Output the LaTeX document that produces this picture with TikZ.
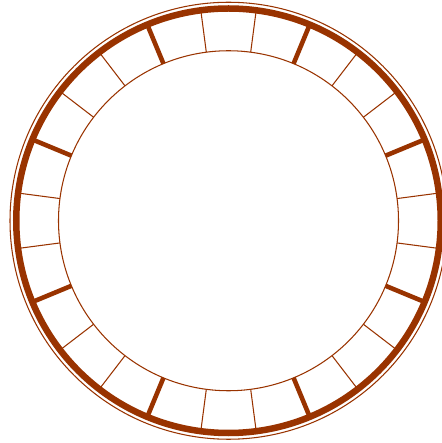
\documentclass[tikz,border=0pt]{standalone}
\usetikzlibrary{calc}
\definecolor{rust}{RGB}{153,51,0}
\begin{document}
\begin{tikzpicture}[
    x=0.02cm, y=0.02cm,
    % Estilos de lineas
    thinline/.style={draw=rust, line width=0.6pt},
    thickline/.style={draw=rust, line width=3.7pt},
    spokethin/.style={draw=rust, line width=0.6pt},
    spokethick/.style={draw=rust, line width=2.6pt}
]
\useasboundingbox (0,0) rectangle (442,443);
\coordinate (centro) at (228.5,222.25);

% -------------------------
% ANILLOS
% -------------------------
\draw[thinline] (centro) circle[radius=218.5];
\draw[thickline] (centro) circle[radius=212.25];
\draw[thinline] (centro) circle[radius=170];

% -------------------------
% RADIOS (24 sectores)
% -------------------------
\foreach \k in {0,...,23} {
    \pgfmathsetmacro{\ang}{7.5+15*\k}
    \pgfmathtruncatemacro{\resto}{mod(\k,3)}
    \ifnum\resto=1
        \draw[spokethick] ($(centro)+(\ang:170)$) -- ($(centro)+(\ang:212.25)$);
    \else
        \draw[spokethin] ($(centro)+(\ang:170)$) -- ($(centro)+(\ang:212.25)$);
    \fi
}

\end{tikzpicture}
\end{document}
